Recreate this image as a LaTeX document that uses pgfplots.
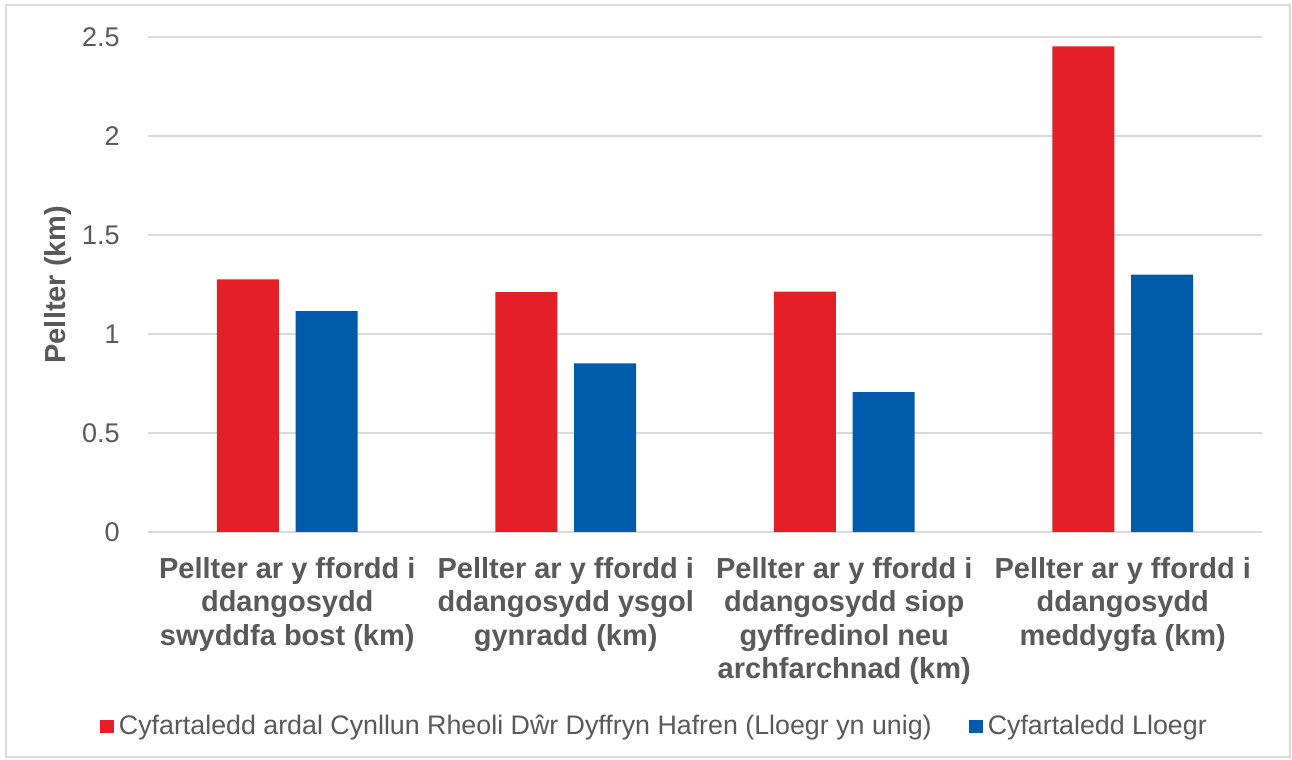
\documentclass[border=0pt]{standalone}
\usepackage{fontspec}
\setmainfont{Liberation Sans}
\usepackage{pgfplots}
\pgfplotsset{compat=1.18}
\definecolor{cred}{HTML}{E41F27}
\definecolor{cblue}{HTML}{005BAA}
\definecolor{ctext}{HTML}{595959}
\definecolor{cgrid}{HTML}{D9D9D9}
\begin{document}
\begin{tikzpicture}
% canvas 1292x760 px at 0.5pt per px
\path (0pt,0pt) rectangle (646pt,380pt);
\draw[cgrid, line width=0.8pt] (3pt,1.5pt) rectangle (645pt,377.5pt);
\begin{axis}[
  at={(74pt,114pt)}, anchor=south west,
  scale only axis, width=557pt, height=247.5pt,
  xmin=-0.5, xmax=3.5, ymin=0, ymax=2.5,
  ytick={0,0.5,1,1.5,2,2.5},
  yticklabels={0,0.5,1,1.5,2,2.5},
  xtick={0,1,2,3},
  xticklabels={
    {Pellter ar y ffordd i\\ddangosydd\\swyddfa bost (km)},
    {Pellter ar y ffordd i\\ddangosydd ysgol\\gynradd (km)},
    {Pellter ar y ffordd i\\ddangosydd siop\\gyffredinol neu\\archfarchnad (km)},
    {Pellter ar y ffordd i\\ddangosydd\\meddygfa (km)}},
  axis line style={draw=none},
  major tick length=0pt,
  ymajorgrids, grid style={cgrid, line width=0.8pt},
  yticklabel style={font=\fontsize{13.5}{16}\selectfont, text=ctext, anchor=east, inner sep=0pt, xshift=-14pt},
  xticklabel style={font=\fontsize{14.5}{16.75}\selectfont\bfseries, text=ctext, align=center, anchor=north, inner sep=0pt, yshift=-12.5pt},
  ylabel={Pellter (km)},
  ylabel style={at={(axis description cs:-0.0808,0.5)}, anchor=center, font=\fontsize{14.5}{16}\selectfont\bfseries, text=ctext},
  legend columns=2,
  legend style={at={(axis description cs:0.455,-0.392)}, anchor=center, draw=none, fill=none,
    font=\fontsize{13.4}{16}\selectfont, text=ctext,
    /tikz/every even column/.append style={column sep=17pt},
    nodes={inner sep=1.5pt}},
  legend image code/.code={\fill[#1] (0pt,-3.3pt) rectangle (7pt,3.2pt);},
  legend cell align=left,
  bar width=0.2226,
]
\addplot[ybar, fill=cred, draw=none, bar shift=-0.1418] coordinates {(0,1.276) (1,1.211) (2,1.214) (3,2.453)};
\addlegendentry{\hspace{1pt}Cyfartaledd ardal Cynllun Rheoli Dŵr Dyffryn Hafren (Lloegr yn unig)}
\addplot[ybar, fill=cblue, draw=none, bar shift=0.1418] coordinates {(0,1.116) (1,0.852) (2,0.707) (3,1.300)};
\addlegendentry{\hspace{1pt}Cyfartaledd Lloegr}
\end{axis}
\end{tikzpicture}
\end{document}
